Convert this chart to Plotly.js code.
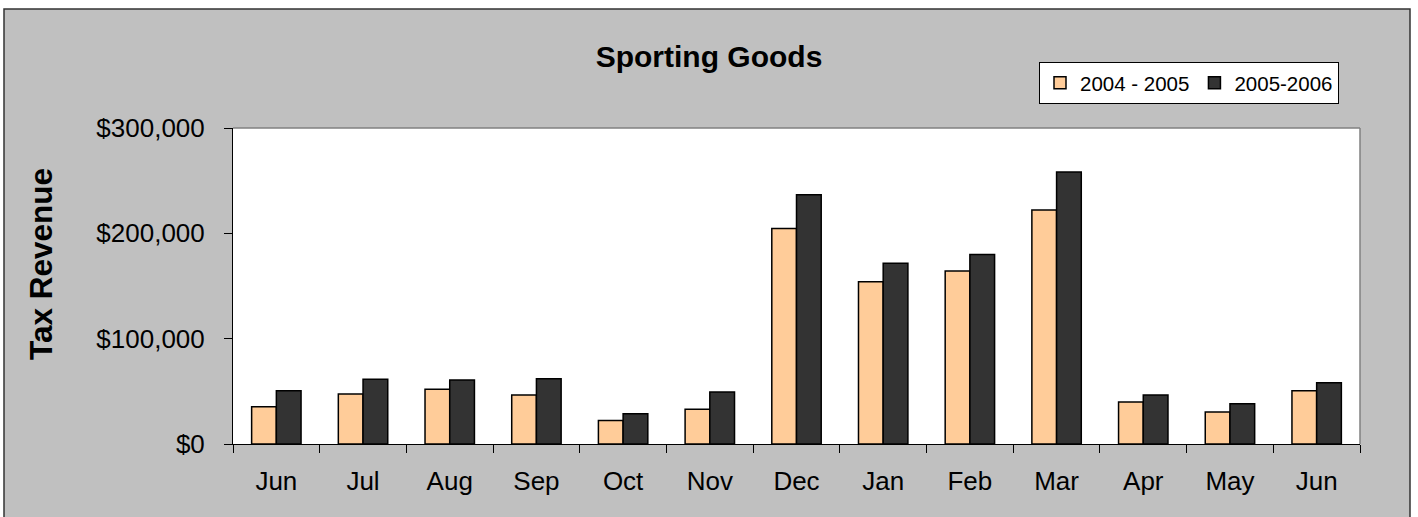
<!DOCTYPE html>
<html>
<head>
<meta charset="utf-8">
<script src="https://cdn.plot.ly/plotly-3.0.1.min.js"></script>
<style>html,body{margin:0;padding:0;background:#fff;}#chart{width:1418px;height:517px;}</style>
</head>
<body>
<div id="chart"></div>
<script>
// ---- data ----
var months = ["Jun","Jul","Aug","Sep","Oct","Nov","Dec","Jan","Feb","Mar","Apr","May","Jun"];
var series1Name = "2004 - 2005";
var series2Name = "2005-2006";
var series1 = [35400, 47500, 51900, 46500, 22200, 32900, 204700, 154100, 164200, 222200, 39900, 30400, 50600];
var series2 = [50600, 61400, 60800, 62000, 28800, 49400, 236700, 171500, 180000, 258200, 46500, 38300, 58200];
var yTicks = [0, 100000, 200000, 300000];
var yTickLabels = ["$0", "$100,000", "$200,000", "$300,000"];

// ---- layout helpers (pixel -> paper) ----
var W = 1418, H = 517;
var L = 233, R = 1360, T = 128, B = 444;
function px(x){ return (x - L) / (R - L); }
function py(y){ return (B - y) / (B - T); }

var idx = months.map(function(m, i){ return i; });
var bounds = [];
for (var i = 0; i <= months.length; i++) bounds.push(i - 0.5);

var FONT = "Liberation Sans, Arial, sans-serif";

var traces = [
  {type:"bar", name:series1Name, x:idx, y:series1,
   marker:{color:"#FFCC99", line:{color:"#000000", width:1.5}}},
  {type:"bar", name:series2Name, x:idx, y:series2,
   marker:{color:"#333333", line:{color:"#000000", width:1.5}}}
];

var layout = {
  width:W, height:H,
  margin:{l:L, r:W-R, t:T, b:H-B, pad:0},
  paper_bgcolor:"#C0C0C0",
  plot_bgcolor:"#FFFFFF",
  font:{family:FONT, color:"#000000"},
  barmode:"group", bargap:0.43, bargroupgap:0,
  showlegend:true,
  title:{text:"<b>Sporting Goods</b>", font:{family:FONT, size:30, color:"#000"},
         x:0.5, xref:"container", y:1-56/H, yref:"container", yanchor:"middle", xanchor:"center"},
  legend:{orientation:"h", x:px(1039), y:py(62), xanchor:"left", yanchor:"top",
          bgcolor:"#FFFFFF", bordercolor:"#000000", borderwidth:1,
          font:{family:FONT, size:20.5, color:"#000"}, traceorder:"normal"},
  xaxis:{range:[-0.5, months.length-0.5], tickmode:"array", tickvals:idx, ticktext:months,
         ticks:"", showgrid:false, zeroline:false, showline:true, linecolor:"#000", linewidth:1,
         tickfont:{family:FONT, size:26, color:"#000"}, ticklabelstandoff:14,
         minor:{tickmode:"array", tickvals:bounds, ticks:"outside", ticklen:8, tickwidth:1, tickcolor:"#000", showgrid:false},
         fixedrange:true},
  yaxis:{range:[0, 300000], tickmode:"array", tickvals:yTicks, ticktext:yTickLabels,
         ticks:"outside", ticklen:8, tickwidth:1, tickcolor:"#000",
         showgrid:false, zeroline:false, showline:true, linecolor:"#000", linewidth:1,
         tickfont:{family:FONT, size:26, color:"#000"}, ticklabelstandoff:14, fixedrange:true},
  annotations:[
    {text:"<b>Tax Revenue</b>", textangle:-90, xref:"paper", yref:"paper",
     x:px(41), y:py(264), xanchor:"center", yanchor:"middle", showarrow:false,
     font:{family:FONT, size:31.5, color:"#000"}}
  ],
  shapes:[
    // white surround outside the chart frame
    {type:"rect", xref:"paper", yref:"paper", layer:"above", x0:px(-5), x1:px(W+5), y0:py(-5), y1:py(9), fillcolor:"#FFFFFF", line:{width:0}},
    {type:"rect", xref:"paper", yref:"paper", layer:"above", x0:px(-5), x1:px(4), y0:py(-5), y1:py(H+5), fillcolor:"#FFFFFF", line:{width:0}},
    {type:"rect", xref:"paper", yref:"paper", layer:"above", x0:px(1410), x1:px(W+5), y0:py(-5), y1:py(H+5), fillcolor:"#FFFFFF", line:{width:0}},
    // chart frame
    {type:"rect", xref:"paper", yref:"paper", layer:"above", x0:px(4), x1:px(1410), y0:py(9), y1:py(H+10), fillcolor:"rgba(0,0,0,0)", line:{color:"#333333", width:1.5}},
    // plot area top/right border (grey)
    {type:"line", xref:"paper", yref:"paper", layer:"above", x0:0, x1:1, y0:1, y1:1, line:{color:"#808080", width:1.5}},
    {type:"line", xref:"paper", yref:"paper", layer:"above", x0:1, x1:1, y0:0, y1:1, line:{color:"#808080", width:1.5}}
  ]
};

Plotly.newPlot("chart", traces, layout, {staticPlot:true, displayModeBar:false});
</script>
</body>
</html>
